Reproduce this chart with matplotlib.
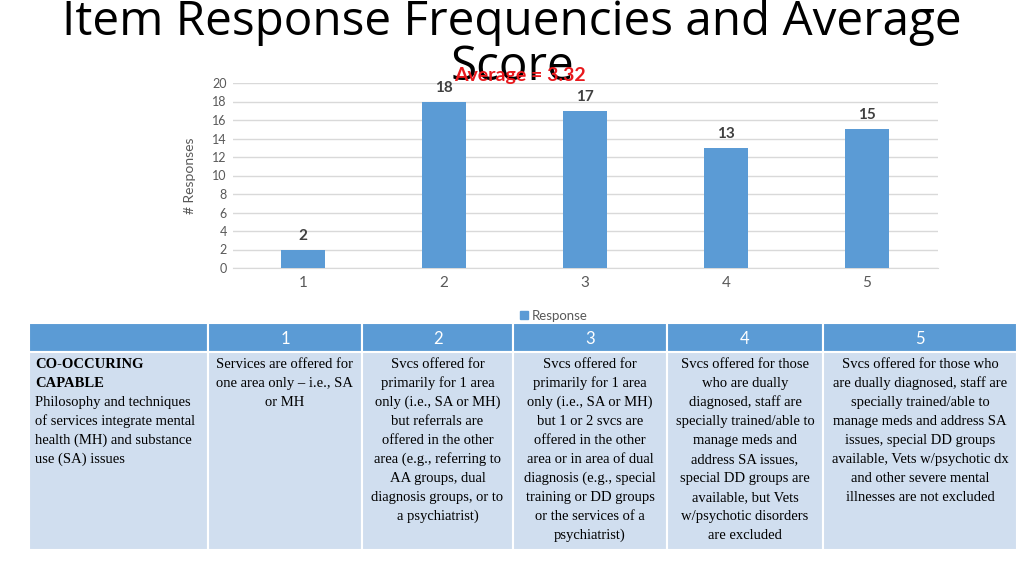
import matplotlib
matplotlib.use("Agg")
import matplotlib.pyplot as plt
from matplotlib.patches import Rectangle

# ---------------- data ----------------
categories = ["1", "2", "3", "4", "5"]
responses = [2, 18, 17, 13, 15]
average_label = "Average = 3.32"
title_lines = ["Item Response Frequencies and Average", "Score"]
y_label = "# Responses"
legend_label = "Response"

table_header = ["", "1", "2", "3", "4", "5"]
row_title = ["CO-OCCURING", "CAPABLE"]
row_desc = ["Philosophy and techniques", "of services integrate mental",
            "health (MH) and substance", "use (SA) issues"]
cell_texts = [
    ["Services are offered for", "one area only \u2013 i.e., SA", "or MH"],
    ["Svcs offered for", "primarily for 1 area", "only (i.e., SA or MH)",
     "but referrals are", "offered in the other", "area (e.g., referring to",
     "AA groups, dual", "diagnosis groups, or to", "a psychiatrist)"],
    ["Svcs offered for", "primarily for 1 area", "only (i.e., SA or MH)",
     "but 1 or 2 svcs are", "offered in the other", "area or in area of dual",
     "diagnosis (e.g., special", "training or DD groups", "or the services of a",
     "psychiatrist)"],
    ["Svcs offered for those", "who are dually", "diagnosed, staff are",
     "specially trained/able to", "manage meds and", "address SA issues,",
     "special DD groups are", "available, but Vets", "w/psychotic disorders",
     "are excluded"],
    ["Svcs offered for those who", "are dually diagnosed, staff are",
     "specially trained/able to", "manage meds and address SA",
     "issues, special DD groups", "available, Vets w/psychotic dx",
     "and other severe mental", "illnesses are not excluded"],
]

# ---------------- figure ----------------
W, H = 1024, 575
fig = plt.figure(figsize=(W / 100, H / 100), dpi=100)
fig.patch.set_facecolor("white")

sans = ["Lato", "DejaVu Sans"]
title_font = ["Open Sans", "DejaVu Sans"]
serif = ["Liberation Serif", "DejaVu Serif"]
bar_color = "#5B9BD5"
grid_color = "#D9D9D9"
tick_color = "#595959"

def fx(px):
    return px / W

def fy(py):
    return 1 - py / H

# chart axes
left, right, top, bottom = 232.5, 937.5, 83, 268
ax = fig.add_axes([fx(left), fy(bottom), fx(right) - fx(left), (bottom - top) / H])
x = list(range(1, len(categories) + 1))
bars = ax.bar(x, responses, width=0.31, color=bar_color, zorder=3, label=legend_label)
ax.set_xlim(0.5, len(categories) + 0.5)
ax.set_ylim(0, 20)
ax.set_yticks(range(0, 21, 2))
ax.set_xticks(x)
ax.set_xticklabels(categories)
ax.yaxis.grid(True, color=grid_color, linewidth=1, zorder=0)
for s in ["top", "right", "left"]:
    ax.spines[s].set_visible(False)
ax.spines["bottom"].set_color(grid_color)
ax.tick_params(axis="both", length=0, colors=tick_color)
ax.tick_params(axis="y", labelsize=9, pad=4)
ax.tick_params(axis="x", labelsize=11, pad=6)
for lab in ax.get_xticklabels() + ax.get_yticklabels():
    lab.set_fontfamily(sans)
ax.set_ylabel(y_label, fontsize=10, color=tick_color, family=sans, labelpad=12)
for xi, v in zip(x, responses):
    ax.annotate(str(v), (xi, v), xytext=(0, 5), textcoords="offset points",
                ha="center", va="bottom", fontsize=11, fontweight="bold",
                color="#404040", family=sans)

# overlay axes in pixel coordinates for title, legend and table
ov = fig.add_axes([0, 0, 1, 1], zorder=5)
ov.set_xlim(0, W)
ov.set_ylim(H, 0)
ov.axis("off")
ov.patch.set_alpha(0)

ov.text(512, 35, title_lines[0], ha="center", va="baseline", fontsize=34.3,
        family=title_font, color="black")
ov.text(512, 80, title_lines[1], ha="center", va="baseline", fontsize=34.3,
        family=title_font, color="black")
ov.text(520, 76, average_label, ha="center", va="center", fontsize=14,
        fontweight="bold", family=sans, color="#E8191D")

# legend
ov.add_patch(Rectangle((520, 311), 8, 8, color=bar_color))
ov.text(532, 315.5, legend_label, ha="left", va="center", fontsize=9.5,
        family=sans, color=tick_color)

# table
col_edges = [29, 208, 362, 513, 667, 823, 1017]
head_top, head_bot, body_bot = 323, 352, 550
for i in range(len(col_edges) - 1):
    x0, x1 = col_edges[i], col_edges[i + 1]
    ov.add_patch(Rectangle((x0, head_top), x1 - x0, head_bot - head_top,
                           facecolor=bar_color, edgecolor="white", linewidth=1.5))
    ov.add_patch(Rectangle((x0, head_bot), x1 - x0, body_bot - head_bot,
                           facecolor="#D0DEEF", edgecolor="white", linewidth=1.5))
    ov.text((x0 + x1) / 2, (head_top + head_bot) / 2 + 1, table_header[i],
            ha="center", va="center", fontsize=12, color="white",
            family=sans)

line_h = 19
y0 = 364.5
for j, line in enumerate(row_title + row_desc):
    ov.text(35, y0 + j * line_h, line, ha="left", va="center", fontsize=10.5,
            family=serif, color="black",
            fontweight="bold" if j < len(row_title) else "normal")
for c, lines in enumerate(cell_texts):
    cx = (col_edges[c + 1] + col_edges[c + 2]) / 2
    for j, line in enumerate(lines):
        ov.text(cx, y0 + j * line_h, line, ha="center", va="center",
                fontsize=10.5, family=serif, color="black")

fig.savefig("out.png", dpi=100)
